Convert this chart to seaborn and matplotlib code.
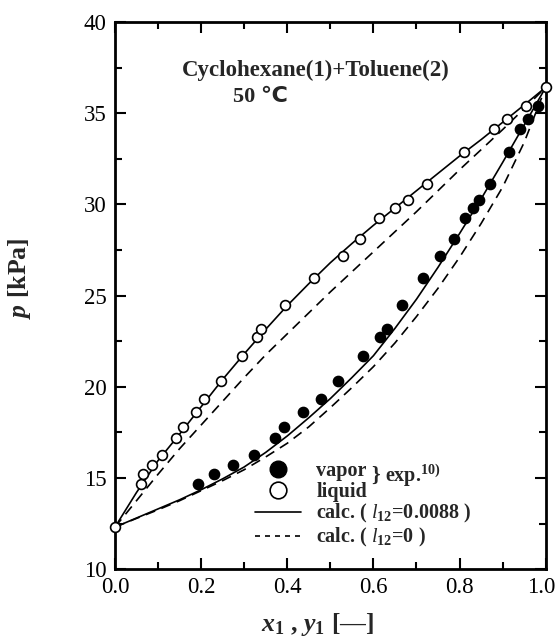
import matplotlib
matplotlib.use("Agg")
import matplotlib.pyplot as plt
import matplotlib.transforms as mtransforms
from matplotlib.lines import Line2D
import seaborn as sns

# Cyclohexane(1)+Toluene(2), 50 C -- experimental points (exp. 10)
exp_p = [14.66, 15.23, 15.72, 16.25, 17.21, 17.77, 18.62, 19.35, 20.34, 21.66, 22.71, 23.15,
         24.47, 25.94, 27.16, 28.10, 29.24, 29.80, 30.22, 31.11, 32.89, 34.14, 34.70, 35.42]
liq_x = [0.060, 0.066, 0.087, 0.109, 0.142, 0.158, 0.187, 0.207, 0.247, 0.295, 0.330, 0.340,
         0.394, 0.462, 0.529, 0.568, 0.614, 0.650, 0.681, 0.724, 0.810, 0.880, 0.911, 0.955]
vap_y = [0.192, 0.231, 0.273, 0.322, 0.371, 0.392, 0.437, 0.479, 0.518, 0.576, 0.616, 0.632,
         0.667, 0.715, 0.754, 0.786, 0.812, 0.832, 0.845, 0.871, 0.915, 0.941, 0.960, 0.981]
# pure components
pure_x = [0.0, 1.0]
pure_p = [12.3, 36.42]

# calculated curves
calc_x = [0.0, 0.05, 0.10, 0.15, 0.20, 0.25, 0.30, 0.35, 0.40, 0.45, 0.50,
          0.55, 0.60, 0.65, 0.70, 0.75, 0.80, 0.85, 0.90, 0.95, 1.0]
# l12 = 0.0088
bub_fit = [12.3, 14.2, 15.95, 17.4, 18.9, 20.4, 21.8, 23.15, 24.45, 25.65, 26.8,
           27.85, 28.85, 29.8, 30.75, 31.7, 32.65, 33.55, 34.5, 35.45, 36.42]
dew_fit = [12.3, 12.8, 13.3, 13.8, 14.35, 14.95, 15.6, 16.4, 17.3, 18.3, 19.35,
           20.5, 21.7, 23.2, 24.8, 26.55, 28.4, 30.3, 32.3, 34.35, 36.42]
# l12 = 0
bub_zero = [12.3, 13.75, 15.2, 16.6, 17.9, 19.2, 20.5, 21.75, 22.9, 24.05, 25.2,
            26.3, 27.4, 28.5, 29.6, 30.75, 31.9, 33.0, 34.1, 35.25, 36.42]
dew_zero = [12.3, 12.78, 13.25, 13.75, 14.3, 14.85, 15.45, 16.15, 16.9, 17.8, 18.85,
            19.95, 21.1, 22.4, 23.85, 25.4, 27.1, 28.95, 30.95, 33.4, 36.42]

sns.set_style("ticks")
plt.rcParams['font.family'] = ['Liberation Serif', 'DejaVu Serif']
plt.rcParams['mathtext.fontset'] = 'custom'
plt.rcParams['mathtext.rm'] = 'Liberation Serif'
plt.rcParams['mathtext.it'] = 'Liberation Serif:italic'
plt.rcParams['mathtext.bf'] = 'Liberation Serif:bold'
plt.rcParams['mathtext.bfit'] = 'Liberation Serif:italic:bold'

fig = plt.figure(figsize=(5.58, 6.38), dpi=100)
ax = fig.add_axes([0.206, 0.108, 0.772, 0.8575])

dash = (0, (6, 4))
for yy in (bub_fit, dew_fit):
    sns.lineplot(x=calc_x, y=yy, sort=False, estimator=None, color='k', lw=1.2, ax=ax)
for yy in (bub_zero, dew_zero):
    sns.lineplot(x=calc_x, y=yy, sort=False, estimator=None, color='k', lw=1.2,
                 linestyle=dash, ax=ax)

sns.scatterplot(x=vap_y, y=exp_p, s=55, color='k', edgecolor='k', linewidth=1.0,
                zorder=4, clip_on=False, ax=ax)
sns.scatterplot(x=liq_x, y=exp_p, s=50, facecolor='white', edgecolor='k', linewidth=1.2,
                zorder=4, clip_on=False, ax=ax)
sns.scatterplot(x=pure_x, y=pure_p, s=50, facecolor='white', edgecolor='k', linewidth=1.2,
                zorder=5, clip_on=False, ax=ax)

ax.set_xlim(0, 1)
ax.set_ylim(10, 40)
ax.set_xticks([0, 0.2, 0.4, 0.6, 0.8, 1.0])
ax.set_xticks([0.1, 0.3, 0.5, 0.7, 0.9], minor=True)
ax.set_yticks([10, 15, 20, 25, 30, 35, 40])
ax.set_yticks([12.5, 17.5, 22.5, 27.5, 32.5, 37.5], minor=True)
ax.set_xticklabels(['0.0', '0.2', '0.4', '0.6', '0.8', '1.0'])
ax.tick_params(which='both', direction='in', top=True, right=True, width=1.5, labelsize=16.5,
               color='k', labelcolor='k')
ax.tick_params(which='major', length=8, pad=6)
ax.tick_params(which='minor', length=5)
for s in ax.spines.values():
    s.set_linewidth(2)
    s.set_color('k')
    s.set_visible(True)

# keep the last x tick label inside the canvas
last = ax.get_xticklabels()[-1]
last.set_transform(last.get_transform() + mtransforms.ScaledTranslation(-4 / 100, 0, fig.dpi_scale_trans))

ax.set_ylabel(r'$\mathbfit{p}$ [kPa]', fontsize=18.5, fontweight='bold')
ax.yaxis.set_label_coords(-0.19, 0.532)
ax.set_xlabel(r'$\mathbfit{x}_\mathbf{1}$ , $\mathbfit{y}_\mathbf{1}$ [—]', fontsize=18.5,
              fontweight='bold')
ax.xaxis.set_label_coords(0.471, -0.076)

ax.text(0.466, 0.912, 'Cyclohexane(1)+Toluene(2)', transform=ax.transAxes, ha='center',
        va='center', fontsize=16.5, fontweight='bold')
ax.text(0.274, 0.863, '50 ℃', transform=ax.transAxes, ha='left', va='center',
        fontsize=16, fontweight='bold', family=['Liberation Serif', 'DejaVu Sans'])

handles = [
    Line2D([], [], ls='none', marker='o', ms=12, mfc='k', mec='k'),
    Line2D([], [], ls='none', marker='o', ms=12, mfc='white', mec='k', mew=1.2),
    Line2D([], [], color='k', lw=1.2),
    Line2D([], [], color='k', lw=1.2, ls=(0, (3, 3))),
]
labels = ['vapor', 'liquid', r'calc. ( $\mathit{l}_\mathbf{12}$=0.0088 )',
          r'calc. ( $\mathit{l}_\mathbf{12}$=0 )']
leg = ax.legend(handles, labels, loc='upper left', bbox_to_anchor=(0.325, 0.198),
                frameon=False, borderpad=0, borderaxespad=0, handlelength=2.3,
                handletextpad=0.75, labelspacing=0.04,
                prop={'family': 'Liberation Serif', 'weight': 'bold', 'size': 14.5})
ax.text(0.595, 0.170, '}', transform=ax.transAxes, ha='left', va='center',
        fontsize=16, fontweight='bold')
ax.text(0.627, 0.170, r'exp.$^\mathbf{10)}$', transform=ax.transAxes, ha='left', va='center',
        fontsize=14.5, fontweight='bold')

fig.savefig('out.png', dpi=100)
